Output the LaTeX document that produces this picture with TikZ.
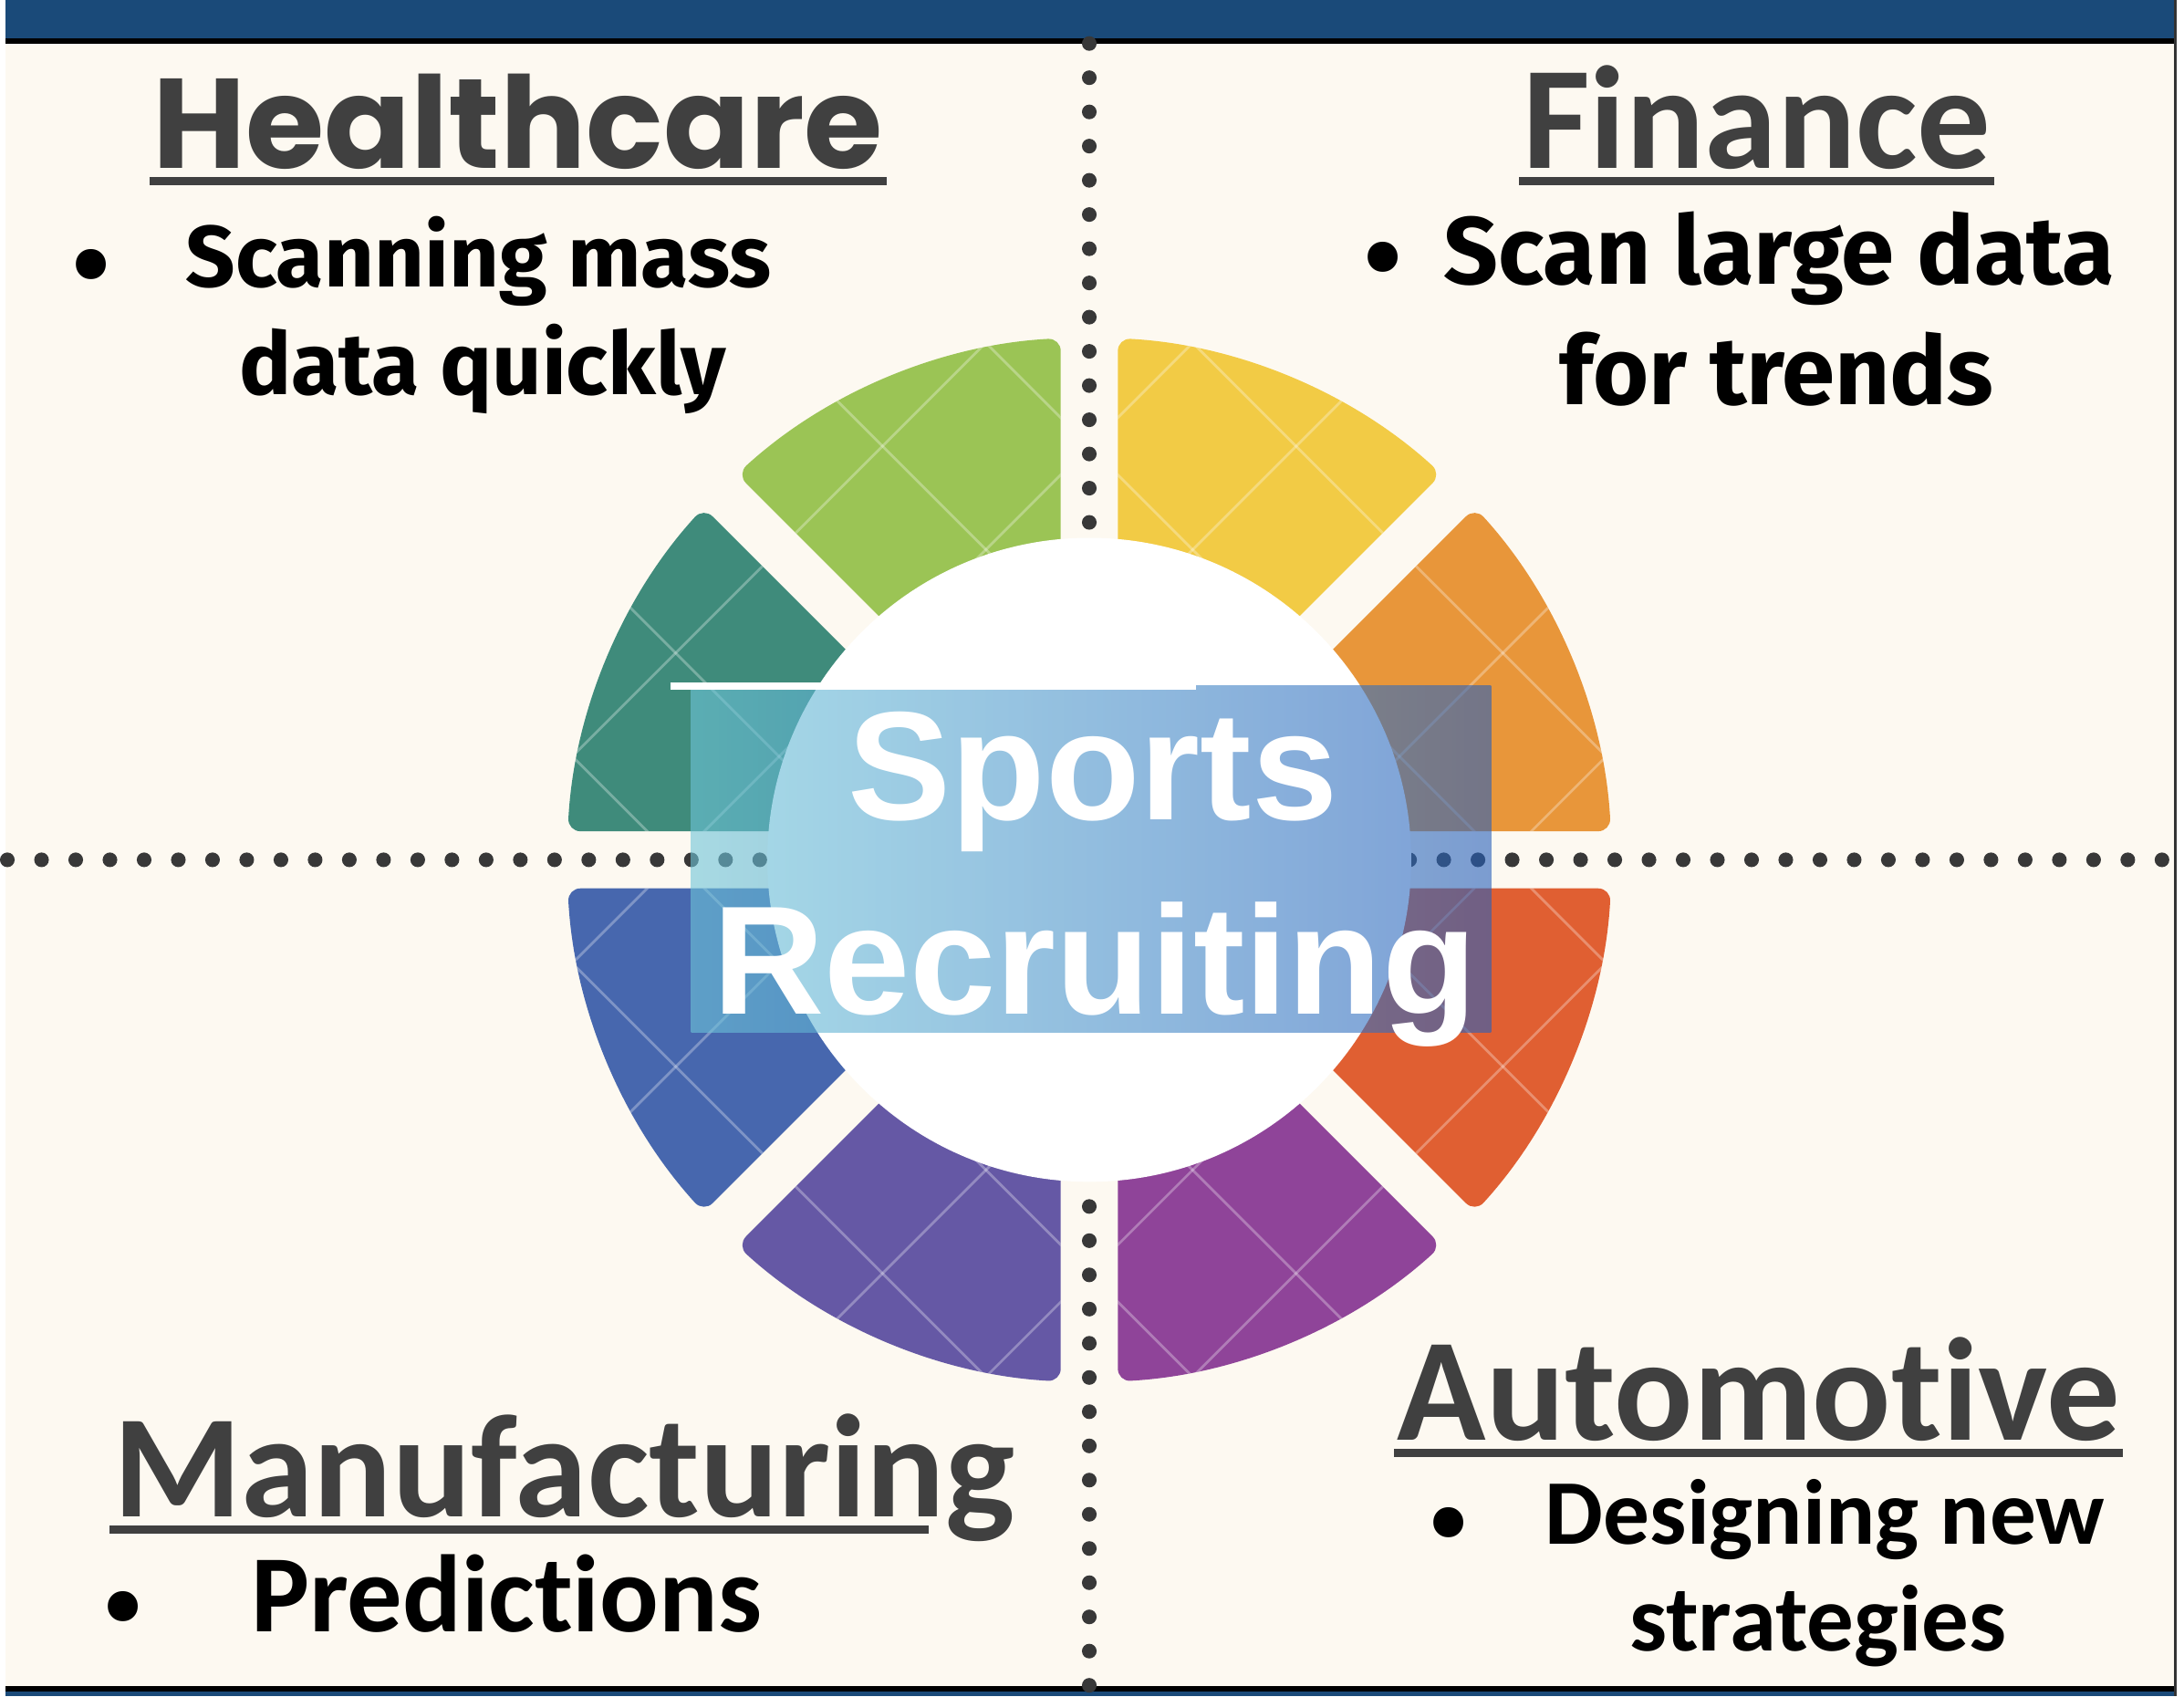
\documentclass[tikz,border=0pt]{standalone}
\usepackage{fontspec}
\setmainfont{Fira Sans}
\newfontfamily\headfont{Poppins}
\newfontfamily\calfont{Carlito}[RawFeature={-liga;-clig;-calt;-dlig}]
\newfontfamily\hubfont{Liberation Sans}
\usetikzlibrary{calc,positioning}

\definecolor{cream}{HTML}{FDF9F1}
\definecolor{barblue}{HTML}{1A4A79}
\definecolor{headgray}{HTML}{404040}
\definecolor{dotgray}{HTML}{383838}
\definecolor{segorange}{HTML}{E8963A}
\definecolor{segyellow}{HTML}{F2CB45}
\definecolor{seggreen}{HTML}{9BC455}
\definecolor{segteal}{HTML}{3F8B7B}
\definecolor{segblue}{HTML}{4767AE}
\definecolor{segpurple}{HTML}{6558A5}
\definecolor{segmagenta}{HTML}{8F4499}
\definecolor{segred}{HTML}{E05F32}
\definecolor{hubcyan}{RGB}{110,197,217}
\definecolor{hubblue}{RGB}{38,95,187}

\begin{document}
\begin{tikzpicture}[x=0.1mm, y=0.1mm,
  head/.style={inner sep=0pt, text=headgray, font=\calfont\bfseries\fontsize{46}{46}\selectfont},
  body/.style={inner sep=0pt, anchor=base west},
  bul/.style={inner sep=0pt, anchor=base, font=\bfseries\fontsize{34}{34}\selectfont},
  dotrow/.style={draw=dotgray, line width=4.6pt, line cap=round, dash pattern=on 0pt off 10.73pt},
  uline/.style={draw=headgray, line width=2.6pt},
  lattice/.style={draw=white, line width=0.8pt, opacity=0.3}]
	\fill[cream] (0,0) rectangle (2394,1870);
	\fill[barblue] (0,1828) rectangle (2394,1870);
	\fill[black] (0,1822) rectangle (2394,1828);
	\fill[barblue] (0,0) rectangle (2394,5);
	\fill[black] (0,5) rectangle (2394,11);
	\fill[black!80] (2391,0) rectangle (2394,1870);
	\begin{scope}[shift={(1195,922)}]
	\foreach \k/\col/\ga/\gb in {0/segorange/31.5/26, 1/segyellow/26/31.5, 2/seggreen/31.5/26, 3/segteal/26/31.5, 4/segblue/31.5/26, 5/segpurple/26/31.5, 6/segmagenta/31.5/26, 7/segred/26/31.5}{
		\pgfmathsetmacro\oa{45*\k+asin(\ga/576)}
		\pgfmathsetmacro\ob{45*\k+45-asin(\gb/576)}
		\pgfmathsetmacro\ia{45*\k+asin(\ga/330)}
		\pgfmathsetmacro\ib{45*\k+45-asin(\gb/330)}
		\begin{scope}
			\path[clip, rounded corners=4pt] (\oa:576) arc[start angle=\oa, end angle=\ob, radius=576] -- (\ib:330) arc[start angle=\ib, end angle=\ia, radius=330] -- cycle;
			\fill[\col] (-600,-600) rectangle (600,600);
			\foreach \n in {-4,...,4}{
				\draw[lattice] (114*\n-600,-114*\n-600) -- (114*\n+600,-114*\n+600);
				\draw[lattice] (114*\n-600,114*\n+600) -- (114*\n+600,114*\n-600);
			}
		\end{scope}
	}
	\end{scope}
	\coordinate (vtop) at (1195,1822);
	\coordinate (vbot) at (1195,8);
	\coordinate (hleft) at (2,922);
	\coordinate (hright) at (2394,922);
	\draw[dotrow] (vtop) -- (vbot);
	\draw[dotrow] (hleft) -- (hright);
	\fill[white] (1195,922) circle (355);
	\shade[left color=hubcyan, right color=hubblue, fill opacity=0.6] (756,732) rectangle (1638,1114);
	\draw[white, line width=2.3pt] (733,1114) -- (1313,1114);
	\node[inner sep=0pt, anchor=base, text=white, font=\hubfont\bfseries\fontsize{48.5}{48.5}\selectfont] (sports) at (1199,966) {Sports};
	\node[inner sep=0pt, anchor=base, text=white, font=\hubfont\bfseries\fontsize{48.5}{48.5}\selectfont] (recruit) at (1201,752) {Recruiting};
	\node[head, anchor=base, font=\headfont\bfseries\fontsize{40}{40}\selectfont] (heal) at (565,1684) {Healthcare};
	\draw[uline] ($(heal.base west)+(-3,-14)$) -- ($(heal.base east)+(3,-14)$);
	\node[bul] (hbul) at (95,1538) {•};
	\node[body, font=\bfseries\fontsize{27.3}{27.3}\selectfont] (heal1) at (198,1554) {Scanning mass};
	\node[body, font=\bfseries\fontsize{27.3}{27.3}\selectfont] (heal2) at (257,1435) {data quickly};
	\node[head, anchor=base] (fin) at (1931,1684) {Finance};
	\draw[uline] ($(fin.base west)+(-3,-14)$) -- ($(fin.base east)+(3,-14)$);
	\node[bul] (fbul) at (1519,1546) {•};
	\node[body, font=\bfseries\fontsize{30}{30}\selectfont] (fin1) at (1585,1557) {Scan large data};
	\node[body, font=\bfseries\fontsize{30}{30}\selectfont] (fin2) at (1713,1424) {for trends};
	\node[head, anchor=base west] (manu) at (118,198) {Manufacturing};
	\draw[uline] ($(manu.base west)+(-3,-14)$) -- ($(manu.base east)+(-95,-14)$);
	\node[bul] (mbul) at (130,58) {•};
	\node[body, font=\calfont\bfseries\fontsize{34.5}{34.5}\selectfont] (manu1) at (270,71) {Predictions};
	\node[head, anchor=base] (auto) at (1933,282) {Automotive};
	\draw[uline] ($(auto.base west)+(-3,-14)$) -- ($(auto.base east)+(3,-14)$);
	\node[bul] (abul) at (1591,150) {•};
	\node[body, font=\calfont\bfseries\fontsize{29}{29}\selectfont] (auto1) at (1697,167) {Designing new};
	\node[body, font=\calfont\bfseries\fontsize{29.5}{29.5}\selectfont] (auto2) at (1790,50) {strategies};
\end{tikzpicture}
\end{document}
